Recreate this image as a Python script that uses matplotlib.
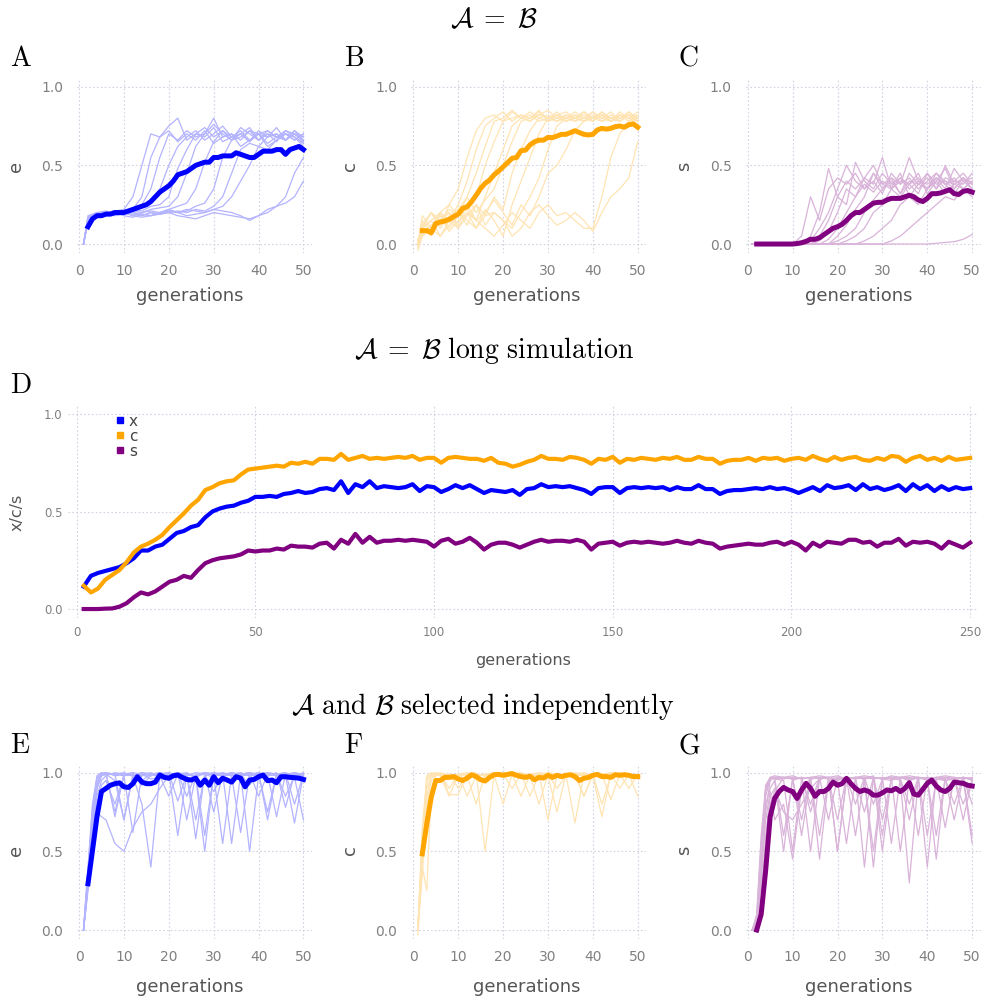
import numpy as np
import matplotlib
matplotlib.use("Agg")
import matplotlib.pyplot as plt
from matplotlib.lines import Line2D
from matplotlib.colors import to_rgb

plt.rcParams["mathtext.fontset"] = "cm"
plt.rcParams["font.family"] = "DejaVu Sans"

BLUE, ORANGE, PURPLE = "#0000ff", "#ffa500", "#800080"
TICK_C, LAB_C, GRID_C = "#808080", "#555555", "#d2d2e4"

# ---------------- data ----------------
MEAN_GENS = list(range(2, 51))
THIN_GENS_TOP = [1] + list(range(2, 51, 2))                 # 26 points
THIN_GENS_BOT = [1, 2, 3, 4, 5, 6] + list(range(8, 51, 2))  # 28 points

mean_e_same = [0.11, 0.16, 0.18, 0.18, 0.19, 0.19, 0.20, 0.20, 0.20, 0.21,
               0.22, 0.23, 0.24, 0.25, 0.27, 0.30, 0.33, 0.35, 0.37, 0.40,
               0.44, 0.45, 0.46, 0.48, 0.50, 0.51, 0.52, 0.52, 0.55, 0.55,
               0.56, 0.56, 0.56, 0.58, 0.57, 0.56, 0.55, 0.55, 0.57, 0.59,
               0.59, 0.59, 0.60, 0.60, 0.57, 0.60, 0.61, 0.62, 0.60]
mean_c_same = [0.085, 0.085, 0.072, 0.13, 0.14, 0.146, 0.157, 0.174, 0.19, 0.227,
               0.237, 0.27, 0.31, 0.354, 0.386, 0.407, 0.44, 0.464, 0.49, 0.517,
               0.545, 0.55, 0.593, 0.597, 0.63, 0.65, 0.66, 0.66, 0.678, 0.676,
               0.686, 0.697, 0.697, 0.708, 0.72, 0.708, 0.697, 0.693, 0.697, 0.725,
               0.735, 0.73, 0.735, 0.746, 0.75, 0.742, 0.758, 0.763, 0.742]
mean_s_same = [0, 0, 0, 0, 0, 0, 0, 0, 0, 0.003,
               0.008, 0.017, 0.03, 0.03, 0.04, 0.06, 0.08, 0.10, 0.11, 0.125,
               0.15, 0.18, 0.20, 0.20, 0.22, 0.24, 0.26, 0.265, 0.265, 0.28,
               0.29, 0.29, 0.29, 0.30, 0.31, 0.30, 0.28, 0.27, 0.29, 0.32,
               0.32, 0.325, 0.335, 0.345, 0.32, 0.315, 0.335, 0.34, 0.33]
mean_e_ind = [0.294, 0.506, 0.72, 0.88, 0.90, 0.92, 0.93, 0.935, 0.91, 0.906,
              0.93, 0.974, 0.94, 0.93, 0.93, 0.94, 0.985, 0.97, 0.965, 0.98,
              0.985, 0.97, 0.957, 0.953, 0.965, 0.92, 0.953, 0.92, 0.974, 0.936,
              0.965, 0.953, 0.94, 0.974, 0.965, 0.91, 0.953, 0.957, 0.974, 0.985,
              0.949, 0.953, 0.936, 0.974, 0.974, 0.97, 0.968, 0.965, 0.957]
mean_c_ind = [0.484, 0.675, 0.845, 0.95, 0.95, 0.97, 0.97, 0.975, 0.96, 0.95,
              0.966, 0.987, 0.975, 0.955, 0.947, 0.97, 0.987, 0.989, 0.983, 0.989,
              0.994, 0.983, 0.975, 0.97, 0.977, 0.955, 0.97, 0.966, 0.983, 0.97,
              0.983, 0.975, 0.983, 0.987, 0.975, 0.95, 0.964, 0.97, 0.983, 0.989,
              0.975, 0.975, 0.97, 0.987, 0.983, 0.987, 0.983, 0.975, 0.975]
mean_s_ind = [0.0, 0.10, 0.38, 0.72, 0.836, 0.88, 0.906, 0.89, 0.88, 0.836,
              0.89, 0.932, 0.90, 0.85, 0.88, 0.88, 0.90, 0.94, 0.92, 0.93,
              0.964, 0.93, 0.90, 0.88, 0.89, 0.88, 0.857, 0.857, 0.872, 0.89,
              0.885, 0.90, 0.88, 0.90, 0.936, 0.864, 0.857, 0.894, 0.932, 0.953,
              0.915, 0.89, 0.88, 0.90, 0.94, 0.936, 0.932, 0.92, 0.915]

runs_e_same = [
    [0, .16, .19, .20, .21, .22, .30, .50, .70, .68, .72, .65, .70, .66, .72, .64, .68, .70, .62, .66, .70, .64, .68, .66, .70, .65],
    [0, .15, .18, .19, .20, .21, .22, .30, .55, .68, .75, .80, .66, .70, .68, .74, .65, .68, .72, .66, .70, .62, .66, .70, .68, .64],
    [0, .17, .20, .19, .21, .20, .23, .25, .35, .55, .70, .66, .72, .68, .70, .76, .70, .66, .68, .72, .66, .70, .65, .72, .68, .62],
    [0, .14, .18, .20, .19, .22, .21, .24, .26, .35, .50, .62, .68, .72, .66, .70, .75, .68, .70, .65, .72, .68, .70, .66, .72, .66],
    [0, .16, .19, .20, .21, .20, .22, .21, .24, .25, .30, .48, .60, .70, .74, .68, .72, .66, .74, .70, .66, .72, .68, .70, .66, .70],
    [0, .15, .17, .18, .20, .19, .21, .20, .22, .23, .24, .30, .45, .62, .70, .80, .68, .70, .66, .72, .70, .68, .74, .66, .70, .68],
    [0, .18, .20, .21, .19, .20, .18, .20, .21, .20, .22, .24, .26, .35, .52, .65, .72, .68, .70, .74, .66, .70, .68, .72, .70, .66],
    [0, .16, .18, .20, .20, .21, .20, .19, .18, .20, .22, .20, .21, .24, .26, .35, .55, .66, .70, .65, .70, .72, .68, .70, .66, .70],
    [0, .15, .19, .20, .21, .20, .19, .18, .20, .19, .20, .21, .20, .22, .21, .24, .30, .45, .60, .64, .62, .68, .70, .66, .72, .68],
    [0, .17, .20, .19, .20, .18, .17, .19, .18, .20, .21, .20, .22, .21, .20, .22, .24, .30, .40, .50, .62, .60, .66, .70, .68, .64],
    [0, .16, .18, .20, .19, .20, .18, .17, .18, .19, .20, .18, .17, .16, .18, .20, .19, .18, .17, .16, .18, .22, .24, .30, .45, .55],
    [0, .15, .18, .19, .18, .19, .20, .18, .20, .19, .21, .20, .18, .19, .20, .22, .21, .20, .18, .15, .18, .20, .24, .26, .30, .40],
]
runs_c_same = [
    [0, .10, .15, .20, .25, .35, .55, .72, .80, .82, .78, .84, .80, .78, .82, .80, .84, .78, .80, .82, .78, .84, .80, .82, .78, .80],
    [-.02, .08, .12, .18, .15, .25, .40, .60, .75, .80, .84, .78, .82, .80, .85, .78, .80, .82, .78, .80, .84, .80, .78, .82, .80, .76],
    [.02, .12, .20, .10, .18, .22, .30, .45, .62, .78, .80, .85, .80, .82, .78, .80, .82, .84, .80, .78, .82, .80, .84, .78, .82, .80],
    [-.04, .05, .10, .15, .20, .12, .25, .30, .50, .65, .78, .80, .82, .78, .84, .80, .78, .82, .80, .84, .78, .82, .80, .78, .84, .80],
    [0, .15, .08, .20, .10, .18, .22, .15, .30, .45, .60, .75, .80, .84, .80, .78, .82, .80, .78, .84, .80, .82, .78, .80, .82, .78],
    [.03, .10, .20, .12, .25, .18, .30, .20, .28, .35, .50, .65, .78, .80, .82, .85, .80, .78, .82, .80, .84, .78, .80, .82, .80, .84],
    [0, .18, .10, .05, .15, .20, .12, .25, .18, .30, .22, .45, .60, .72, .80, .82, .78, .80, .84, .80, .78, .82, .80, .78, .82, .80],
    [-.01, .06, .12, .18, .08, .15, .20, .10, .22, .15, .05, .25, .40, .55, .70, .80, .82, .78, .80, .84, .80, .78, .82, .80, .84, .78],
    [.01, .10, .05, .15, .20, .10, .18, .25, .12, .20, .15, .10, .20, .30, .42, .60, .75, .80, .82, .78, .80, .84, .78, .82, .80, .82],
    [0, .12, .20, .15, .22, .18, .25, .15, .20, .28, .20, .12, .25, .18, .30, .45, .50, .60, .72, .78, .80, .82, .78, .84, .80, .78],
    [-.03, .05, .10, .20, .15, .10, .20, .15, .10, .05, .12, .20, .15, .10, .20, .25, .18, .20, .15, .10, .10, .30, .55, .70, .78, .82],
    [0, .10, .15, .05, .12, .20, .15, .10, .18, .20, .15, .05, .10, .20, .25, .18, .12, .15, .20, .15, .08, .20, .30, .35, .42, .65],
]
runs_s_same = [
    [0, 0, 0, 0, 0, 0, .05, .30, .15, .35, .42, .38, .45, .35, .40, .32, .45, .38, .42, .35, .40, .45, .38, .42, .35, .40],
    [0, 0, 0, 0, 0, 0, 0, .05, .20, .48, .30, .40, .35, .42, .50, .38, .35, .42, .38, .45, .32, .40, .48, .35, .42, .38],
    [0, 0, 0, 0, 0, 0, 0, .02, .10, .20, .35, .50, .40, .35, .45, .38, .42, .32, .40, .38, .45, .35, .42, .40, .38, .45],
    [0, 0, 0, 0, 0, 0, 0, 0, .05, .15, .30, .25, .52, .40, .35, .45, .38, .42, .35, .40, .38, .42, .35, .48, .40, .35],
    [0, 0, 0, 0, 0, 0, 0, 0, .02, .08, .20, .35, .30, .42, .38, .55, .35, .40, .38, .32, .45, .38, .40, .35, .42, .38],
    [0, 0, 0, 0, 0, 0, 0, 0, 0, .03, .10, .20, .30, .38, .33, .40, .36, .45, .30, .38, .42, .35, .50, .38, .42, .35],
    [0, 0, 0, 0, 0, 0, 0, 0, 0, 0, .05, .12, .22, .30, .45, .35, .40, .32, .45, .38, .35, .42, .38, .40, .45, .38],
    [0, 0, 0, 0, 0, 0, 0, 0, 0, 0, .02, .05, .10, .20, .28, .35, .42, .38, .55, .40, .35, .42, .38, .32, .40, .42],
    [0, 0, 0, 0, 0, 0, 0, 0, 0, 0, 0, .02, .05, .10, .20, .25, .35, .30, .38, .42, .35, .45, .40, .38, .35, .40],
    [0, 0, 0, 0, 0, 0, 0, 0, 0, 0, 0, 0, 0, .02, .05, .10, .15, .25, .30, .25, .35, .40, .32, .38, .42, .35],
    [0, 0, 0, 0, 0, 0, 0, 0, 0, 0, 0, 0, 0, 0, 0, 0, .02, .05, .10, .15, .20, .25, .30, .28, .35, .30],
    [0, 0, 0, 0, 0, 0, 0, 0, 0, 0, 0, 0, 0, 0, 0, 0, 0, 0, 0, 0, 0, .005, .01, .015, .03, .06],
]
runs_e_ind = [
    [0, .35, .75, .97, .99, 1, .99, .98, 1, .99, .98, .99, 1, .98, .99, .97, 1, .99, .98, .99, 1, .98, .99, 1, .98, .99, 1, .99],
    [0, .28, .60, .90, .98, .99, .95, .70, .98, 1, .99, .97, 1, .60, .99, .98, 1, .75, .99, 1, .98, .99, .97, 1, .99, .85, .98, 1],
    [0, .40, .80, .98, 1, .99, .75, .98, .62, .99, 1, .98, .85, .99, 1, .97, .50, .99, 1, .98, .99, .92, 1, .98, .99, 1, .98, .99],
    [0, .30, .65, .85, .95, .98, 1, .99, .98, .80, .40, .99, 1, .98, .99, .70, .98, 1, .99, .55, .99, .98, 1, .70, .99, .98, .99, .97],
    [0, .25, .55, .75, .72, .70, .55, .50, .65, .75, .80, .90, .98, 1, .99, .98, .60, .99, .98, 1, .99, .50, .98, 1, .99, .98, .68, .99],
    [0, .32, .70, .92, .99, 1, .98, .99, 1, .92, .98, .99, .98, 1, .85, .99, 1, .98, .55, .99, .98, 1, .99, .75, .99, .98, 1, .98],
    [0, .38, .78, .96, 1, .99, .99, .70, .99, .98, .99, 1, .99, .98, .99, .58, .99, 1, .98, .99, .99, 1, .98, .99, .72, .99, .98, .97],
    [0, .30, .68, .90, .98, .99, .99, 1, .98, .99, .96, .97, .99, 1, .70, .98, .99, .97, 1, .98, .62, .99, 1, .98, .99, 1, .80, .99],
    [0, .27, .60, .80, .92, .95, .80, .98, .99, .95, .99, 1, .95, .99, .98, 1, .99, .88, .99, .98, .99, 1, .85, .99, .98, .99, .97, .70],
    [0, .35, .72, .94, .99, 1, .72, .99, .98, 1, .99, .98, 1, .82, .99, .98, 1, .99, .98, .99, .98, .99, .99, .98, 1, .78, .99, .98],
]
runs_c_ind = [
    [0, .50, .95, .99, 1, .99, .98, .99, 1, .99, .98, .99, 1, .99, .98, .99, 1, .99, .98, .99, 1, .99, .98, .99, 1, .98, .99, .98],
    [0, .60, .98, 1, .99, .98, .85, .99, .98, .80, .99, 1, .98, .99, .85, .99, .98, 1, .99, .98, .99, .85, .99, .98, 1, .99, .98, .97],
    [-.03, .40, .25, .90, .98, .99, .99, .98, .99, 1, .50, .99, .98, .99, 1, .98, .99, .70, .99, .98, .99, 1, .98, .72, .99, 1, .98, .99],
    [0, .45, .85, .97, .99, 1, .86, .86, .99, .98, .99, .98, .80, .99, 1, .98, .99, .98, .75, .99, .98, .99, .98, .99, .83, .99, .98, .99],
    [0, .55, .90, .98, .99, .99, .99, .90, .99, .99, .98, .99, .99, .98, .99, .99, .98, .99, .99, .98, .99, .85, .99, .98, .99, .99, .90, .99],
    [0, .35, .80, .95, .99, .98, .97, .99, .95, .99, .98, 1, .99, .90, .99, .98, .80, .99, .98, .99, .68, .99, .98, .99, .98, .99, .99, .85],
    [0, .50, .95, .99, .98, 1, .98, .99, .85, .98, .99, .98, .99, .98, .99, .85, .99, 1, .99, .98, .99, .98, .99, .80, .98, .99, .99, .98],
    [0, .65, .97, .99, 1, .99, .90, .99, .99, .98, .99, .98, .99, .99, .98, .99, .98, .99, .90, .98, .99, .99, .98, .99, .99, .90, .99, .98],
]
runs_s_ind = [
    [0, .05, .50, .90, .97, .98, .97, .98, .96, .97, .98, .97, .98, .96, .97, .98, .97, .96, .98, .97, .98, .97, .96, .97, .98, .97, .96, .97],
    [0, .02, .30, .75, .95, .97, .60, .95, .97, .50, .96, .97, .95, .55, .97, .96, .98, .70, .96, .97, .95, .97, .60, .96, .97, .95, .97, .96],
    [0, .10, .60, .92, .97, .96, .95, .50, .96, .97, .45, .95, .97, .96, .97, .40, .97, .96, .95, .97, .96, .60, .97, .96, .65, .97, .96, .55],
    [0, 0, .20, .60, .85, .90, .75, .70, .80, .90, .96, .97, .50, .95, .97, .96, .40, .96, .97, .95, .30, .96, .97, .96, .95, .97, .70, .96],
    [0, .03, .40, .85, .96, .97, .97, .96, .70, .97, .96, .97, .95, .97, .96, .75, .97, .60, .96, .97, .97, .96, .40, .97, .96, .80, .97, .96],
    [0, .05, .45, .80, .90, .95, .50, .97, .96, .80, .97, .96, .50, .96, .97, .96, .97, .50, .97, .96, .80, .97, .96, .45, .97, .96, .97, .80],
    [0, 0, .15, .55, .80, .88, .97, .96, .97, .96, .60, .97, .96, .97, .80, .97, .96, .97, .55, .97, .96, .97, .95, .97, .96, .70, .97, .95],
    [0, .08, .55, .90, .96, .97, .96, .97, .60, .96, .97, .70, .97, .96, .97, .96, .50, .97, .96, .97, .95, .97, .96, .97, .95, .96, .97, .60],
    [0, .04, .35, .70, .88, .70, .80, .45, .90, .96, .97, .96, .70, .97, .96, .97, .80, .96, .97, .50, .96, .97, .96, .60, .97, .96, .80, .95],
    [0, .06, .50, .88, .97, .96, .97, .96, .97, .75, .96, .97, .96, .97, .60, .96, .97, .96, .97, .96, .70, .96, .97, .96, .97, .96, .97, .96],
]

# long simulation, every second generation
LONG_GENS = list(range(2, 251, 2))
long_x = [0.115, 0.17, 0.185, 0.195, 0.205, 0.215, 0.235, 0.26, 0.30, 0.30, 0.32, 0.33, 0.36, 0.39, 0.40, 0.42, 0.43, 0.47, 0.50, 0.515, 0.525, 0.53, 0.545, 0.555, 0.575,
          0.575, 0.58, 0.575, 0.59, 0.595, 0.605, 0.595, 0.60, 0.615, 0.62, 0.61, 0.655, 0.595, 0.64, 0.625, 0.655, 0.62, 0.63, 0.625, 0.62, 0.625, 0.64, 0.605, 0.63, 0.625,
          0.60, 0.615, 0.635, 0.62, 0.635, 0.615, 0.595, 0.61, 0.605, 0.60, 0.61, 0.585, 0.615, 0.62, 0.64, 0.625, 0.63, 0.625, 0.63, 0.62, 0.61, 0.59, 0.62, 0.625, 0.625,
          0.595, 0.62, 0.625, 0.62, 0.625, 0.62, 0.625, 0.61, 0.625, 0.615, 0.615, 0.635, 0.615, 0.615, 0.59, 0.605, 0.61, 0.61, 0.615, 0.62, 0.615, 0.625, 0.615, 0.62, 0.61,
          0.595, 0.61, 0.625, 0.605, 0.635, 0.62, 0.625, 0.635, 0.61, 0.64, 0.615, 0.625, 0.61, 0.62, 0.635, 0.605, 0.64, 0.615, 0.635, 0.605, 0.63, 0.61, 0.625, 0.615, 0.62]
long_c = [0.12, 0.085, 0.105, 0.15, 0.175, 0.20, 0.24, 0.29, 0.32, 0.335, 0.355, 0.38, 0.42, 0.455, 0.49, 0.53, 0.56, 0.61, 0.625, 0.645, 0.655, 0.66, 0.69, 0.715, 0.72,
          0.725, 0.73, 0.735, 0.73, 0.75, 0.745, 0.755, 0.745, 0.77, 0.77, 0.765, 0.795, 0.765, 0.775, 0.785, 0.77, 0.775, 0.77, 0.775, 0.78, 0.775, 0.785, 0.765, 0.775, 0.775,
          0.75, 0.775, 0.78, 0.775, 0.77, 0.77, 0.76, 0.775, 0.75, 0.745, 0.73, 0.74, 0.755, 0.765, 0.785, 0.77, 0.77, 0.765, 0.78, 0.775, 0.765, 0.745, 0.77, 0.765, 0.78,
          0.75, 0.77, 0.765, 0.775, 0.77, 0.765, 0.775, 0.77, 0.78, 0.765, 0.765, 0.78, 0.77, 0.77, 0.745, 0.76, 0.765, 0.765, 0.775, 0.76, 0.775, 0.77, 0.775, 0.76, 0.77,
          0.775, 0.765, 0.785, 0.77, 0.76, 0.78, 0.765, 0.775, 0.78, 0.765, 0.76, 0.775, 0.765, 0.785, 0.78, 0.755, 0.775, 0.785, 0.765, 0.775, 0.76, 0.78, 0.765, 0.77, 0.775]
long_s = [0, 0, 0, 0.002, 0.003, 0.012, 0.03, 0.06, 0.085, 0.075, 0.09, 0.115, 0.14, 0.15, 0.17, 0.16, 0.20, 0.235, 0.25, 0.26, 0.265, 0.27, 0.28, 0.30, 0.295,
          0.30, 0.30, 0.31, 0.305, 0.325, 0.32, 0.32, 0.315, 0.335, 0.34, 0.31, 0.355, 0.335, 0.385, 0.34, 0.37, 0.34, 0.35, 0.35, 0.355, 0.35, 0.355, 0.35, 0.345, 0.32,
          0.35, 0.36, 0.335, 0.345, 0.365, 0.34, 0.305, 0.33, 0.34, 0.34, 0.33, 0.315, 0.33, 0.345, 0.355, 0.345, 0.35, 0.35, 0.345, 0.355, 0.345, 0.305, 0.335, 0.34, 0.345,
          0.325, 0.34, 0.345, 0.34, 0.345, 0.34, 0.335, 0.34, 0.35, 0.34, 0.335, 0.35, 0.34, 0.335, 0.31, 0.32, 0.325, 0.33, 0.335, 0.33, 0.33, 0.34, 0.345, 0.33, 0.345,
          0.33, 0.30, 0.34, 0.32, 0.345, 0.34, 0.335, 0.355, 0.355, 0.34, 0.345, 0.32, 0.34, 0.34, 0.36, 0.325, 0.345, 0.34, 0.345, 0.335, 0.31, 0.345, 0.33, 0.315, 0.34]

# ---------------- layout ----------------
W, H = 985, 999
fig = plt.figure(figsize=(W / 100, H / 100), dpi=100)


def px_axes(left, top, right, bottom):
    return fig.add_axes([left / W, 1 - bottom / H, (right - left) / W, (bottom - top) / H])


def ftext(x, y, s, **kw):
    fig.text(x / W, 1 - y / H, s, **kw)


def pale(color, k=0.3):
    r, g, b = to_rgb(color)
    return (1 - k + k * r, 1 - k + k * g, 1 - k + k * b)


def clean(ax, fs, padx, pady):
    for sp in ax.spines.values():
        sp.set_visible(False)
    ax.tick_params(length=0, labelsize=fs, labelcolor=TICK_C)
    ax.tick_params(axis="x", pad=padx)
    ax.tick_params(axis="y", pad=pady)
    ax.grid(True, ls=(0, (1.5, 2)), color=GRID_C, lw=0.8)
    ax.set_axisbelow(True)


def small_panel(left, top, runs, thin_gens, mean, color):
    ax = px_axes(left, top, left + 235, top + 175)
    for r in runs:
        ax.plot(thin_gens, r, color=pale(color), lw=0.9)
    ax.plot(MEAN_GENS, mean, color=color, lw=3.6, solid_joinstyle="round")
    ax.set_xlim(-0.45, 51.9)
    ax.set_ylim(-0.057, 1.055)
    ax.set_xticks([0, 10, 20, 30, 40, 50])
    ax.set_yticks([0.0, 0.5, 1.0])
    ax.set_yticklabels(["0.0", "0.5", "1.0"])
    clean(ax, 10, 8, 10)
    return ax


top_row = [(77, runs_e_same, mean_e_same, BLUE, "e"),
           (411.3, runs_c_same, mean_c_same, ORANGE, "c"),
           (745.7, runs_s_same, mean_s_same, PURPLE, "s")]
bot_row = [(77, runs_e_ind, mean_e_ind, BLUE, "e"),
           (411.3, runs_c_ind, mean_c_ind, ORANGE, "c"),
           (745.7, runs_s_ind, mean_s_ind, PURPLE, "s")]
ylab_x = [16, 350, 684]
xlab_x = [190, 527, 859]
letters_top = [(10, "A"), (344, "B"), (678, "C")]
letters_bot = [(10, "E"), (344, "F"), (678, "G")]

for i, (left, runs, mean, col, lab) in enumerate(top_row):
    small_panel(left, 78, runs, THIN_GENS_TOP, mean, col)
    ftext(ylab_x[i], 166, lab, rotation=90, ha="center", va="center", fontsize=13, color=LAB_C)
    ftext(xlab_x[i], 296, "generations", ha="center", va="center", fontsize=13, color=LAB_C)
    ftext(letters_top[i][0], 58, r"$\mathrm{%s}$" % letters_top[i][1], ha="left", va="center", fontsize=20)

for i, (left, runs, mean, col, lab) in enumerate(bot_row):
    small_panel(left, 764, runs, THIN_GENS_BOT, mean, col)
    ftext(ylab_x[i], 850, lab, rotation=90, ha="center", va="center", fontsize=13, color=LAB_C)
    ftext(xlab_x[i], 987, "generations", ha="center", va="center", fontsize=13, color=LAB_C)
    ftext(letters_bot[i][0], 745, r"$\mathrm{%s}$" % letters_bot[i][1], ha="left", va="center", fontsize=20)

# long simulation panel
axd = px_axes(68, 406, 978, 618)
axd.plot(LONG_GENS, long_x, color=BLUE, lw=3.0)
axd.plot(LONG_GENS, long_c, color=ORANGE, lw=3.0)
axd.plot(LONG_GENS, long_s, color=PURPLE, lw=3.0)
axd.set_xlim(-2.4, 252.2)
axd.set_ylim(-0.046, 1.041)
axd.set_xticks([0, 50, 100, 150, 200, 250])
axd.set_yticks([0.0, 0.5, 1.0])
axd.set_yticklabels(["0.0", "0.5", "1.0"])
clean(axd, 8.5, 6, 4)
handles = [Line2D([], [], ls="", marker="s", ms=4, color=c) for c in (BLUE, ORANGE, PURPLE)]
axd.legend(handles, ["x", "c", "s"], loc="upper left", bbox_to_anchor=(0.045, 1.0),
           frameon=False, fontsize=11, labelspacing=0.0, handlelength=0.5,
           handletextpad=0.3, borderpad=0, labelcolor="#444444")
ftext(17, 512, "x/c/s", rotation=90, ha="center", va="center", fontsize=11.5, color=LAB_C)
ftext(523, 660, "generations", ha="center", va="center", fontsize=11.5, color=LAB_C)
ftext(10, 385, r"$\mathrm{D}$", ha="left", va="center", fontsize=20)

# section titles
ftext(494, 19, r"$\mathcal{A}\;=\;\mathcal{B}$", ha="center", va="center", fontsize=20)
ftext(494, 350, r"$\mathcal{A}\;=\;\mathcal{B}\ \mathrm{long\ simulation}$", ha="center", va="center", fontsize=20)
ftext(483, 707, r"$\mathcal{A}\ \mathrm{and}\ \mathcal{B}\ \mathrm{selected\ independently}$",
      ha="center", va="center", fontsize=20)

fig.savefig("out.png", dpi=100, facecolor="white")
